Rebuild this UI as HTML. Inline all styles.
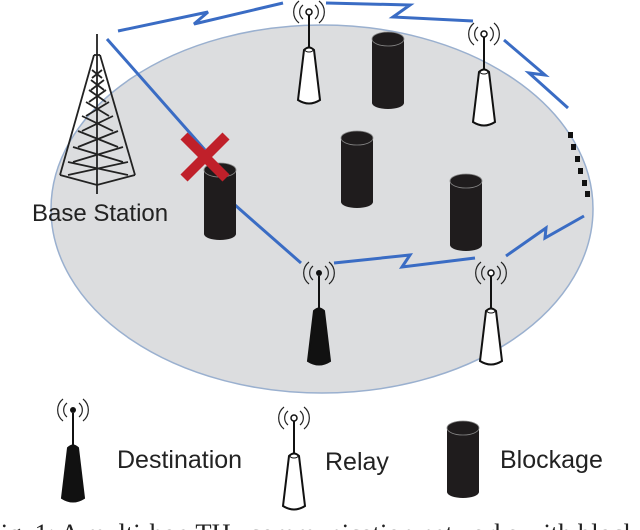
<!DOCTYPE html>
<html><head><meta charset="utf-8"><style>
html,body{margin:0;padding:0;background:#fff;width:640px;height:530px;overflow:hidden}
svg{display:block}
</style></head><body>
<svg width="640" height="530" viewBox="0 0 640 530" xmlns="http://www.w3.org/2000/svg">
<defs>
<g id="waves" fill="none" stroke="#222" stroke-width="1.2">
  <path d="M-6,-7 A9,9 0 0 0 -6,7"/><path d="M6,-7 A9,9 0 0 1 6,7"/>
  <path d="M-10,-11 A14,14 0 0 0 -10,11"/><path d="M10,-11 A14,14 0 0 1 10,11"/>
</g>
<g id="relay">
  <use href="#waves"/>
  <circle cx="0" cy="0" r="3" fill="#fff" stroke="#111" stroke-width="1.5"/>
  <line x1="0" y1="3" x2="0" y2="36" stroke="#111" stroke-width="2"/>
  <path d="M-5,38 Q0,33 5,38 L11,88 Q0,95 -11,88 Z" fill="#fff" stroke="#111" stroke-width="2"/>
  <ellipse cx="0" cy="38" rx="4" ry="2" fill="none" stroke="#111" stroke-width="1"/>
</g>
<g id="dest">
  <use href="#waves"/>
  <circle cx="0" cy="0" r="3" fill="#111"/>
  <line x1="0" y1="3" x2="0" y2="36" stroke="#111" stroke-width="2"/>
  <path d="M-5,38 Q0,33 5,38 L11,88 Q0,95 -11,88 Z" fill="#111" stroke="#111" stroke-width="2"/>
</g>
<g id="block">
  <path d="M-16,8 L-16,72 A16,6 0 0 0 16,72 L16,8 Z" fill="#1f1c1d"/>
  <ellipse cx="0" cy="8" rx="16" ry="7" fill="#1f1c1d" stroke="#888" stroke-width="0.8"/>
</g>
</defs>

<ellipse cx="322" cy="209" rx="271" ry="184" fill="#dcdddf" stroke="#9ab0cf" stroke-width="1.5"/>

<g fill="none" stroke="#3a6cc4" stroke-width="3" stroke-linejoin="miter">
  <polyline points="118,31 208,12 194,24 283,3"/>
  <polyline points="326,3 410,5 393,17 473,21"/>
  <polyline points="504,40 545,75 529,73 568,108"/>
  <polyline points="107,39 205,150"/>
  <polyline points="235,205 301,263"/>
  <polyline points="334,263 410,255 402,267 475,258"/>
  <polyline points="584,216 545,238 546,228 506,256"/>
</g>

<g stroke="#222" stroke-width="1.8" fill="none">
  <line x1="97" y1="34" x2="97" y2="194"/>
  <line x1="94" y1="55" x2="60" y2="175"/>
  <line x1="100" y1="55" x2="135" y2="175"/>
  <line x1="94" y1="55" x2="100" y2="55"/>
  <path d="M92,70 L102,78 M102,70 L92,78 M91,80 L104,90 M104,80 L91,90 M89,90 L106,102 M106,90 L89,102 M86,102 L109,116 M109,102 L86,116 M82,116 L113,131 M113,116 L82,131 M78,131 L118,147 M118,131 L78,147 M73,147 L123,162 M123,147 L73,162 M68,162 L128,175 M128,162 L68,175"/>
  <path d="M60,175 L97,185 L135,175"/>
</g>
<text x="32" y="221" font-family="Liberation Sans, sans-serif" font-size="24" fill="#222">Base Station</text>

<use href="#block" x="388" y="31"/>
<use href="#block" x="357" y="130"/>
<use href="#block" x="466" y="173"/>
<use href="#block" x="220" y="162"/>

<g stroke="#c0202a" stroke-width="10" stroke-linecap="butt">
  <line x1="184" y1="136" x2="226" y2="178"/>
  <line x1="226" y1="136" x2="184" y2="178"/>
</g>

<use href="#relay" x="309" y="12"/>
<use href="#relay" x="484" y="34"/>
<use href="#relay" x="491" y="273"/>
<use href="#dest" x="319" y="273"/>

<g fill="#111">
  <rect x="568" y="132" width="5" height="6"/><rect x="571" y="144" width="5" height="6"/>
  <rect x="575" y="156" width="5" height="6"/><rect x="578" y="168" width="5" height="6"/>
  <rect x="582" y="180" width="5" height="6"/><rect x="585" y="191" width="5" height="6"/>
</g>

<use href="#dest" x="73" y="410"/>
<use href="#relay" x="294" y="418"/>
<use href="#block" x="463" y="420"/>
<g font-family="Liberation Sans, sans-serif" font-size="25" fill="#222">
  <text x="117" y="468">Destination</text>
  <text x="325" y="470">Relay</text>
  <text x="500" y="468">Blockage</text>
</g>
<text x="-14" y="542" font-family="Liberation Serif, serif" font-size="26.5" fill="#222">Fig. 1: A multi-hop THz communication networks with blockage</text>
</svg>
</body></html>
